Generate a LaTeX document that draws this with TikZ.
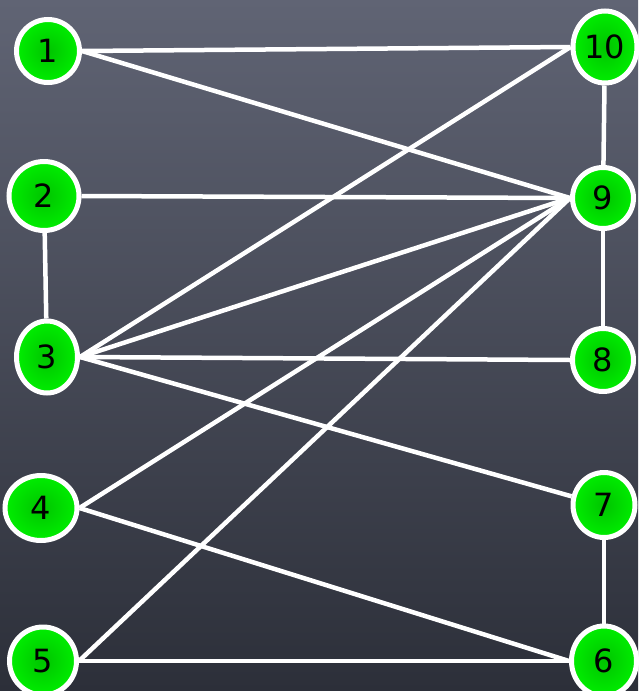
\documentclass[tikz,border=0pt]{standalone}
\usepackage{fontspec}
\setmainfont{DejaVu Sans}
\usepackage{xcolor}
\usepackage{tikz}
\usetikzlibrary{shapes.geometric,backgrounds}
\definecolor{SlateTop}{RGB}{96,100,116}
\definecolor{SlateBot}{RGB}{44,47,57}
\definecolor{VtxGreen}{RGB}{0,238,0}
\definecolor{VtxCore}{RGB}{0,196,0}

\begin{document}
\begin{tikzpicture}[x=1pt, y=-1pt,
  vtx/.style={ellipse, draw=white, line width=5pt, inner sep=0pt,
    minimum width=63pt, minimum height=63pt,
    inner color=VtxCore, outer color=VtxGreen,
    font=\fontsize{32}{34}\selectfont, text=black},
  link/.style={draw=white, line width=4.5pt}]

\useasboundingbox (0,0) rectangle (638,691);

\node[vtx] (v1) at (48,51) {1};
\node[vtx, minimum width=64pt, minimum height=72pt] (v10) at (605,47) {10};
\node[vtx, minimum width=70pt, minimum height=69pt] (v2) at (44,196) {2};
\node[vtx, minimum width=61pt, minimum height=61pt] (v9) at (603,198) {9};
\node[vtx, minimum width=61pt, minimum height=72pt] (v3) at (47,357) {3};
\node[vtx, minimum width=61pt, minimum height=63pt] (v8) at (603,360) {8};
\node[vtx, minimum width=72pt, minimum height=65pt] (v4) at (41,508) {4};
\node[vtx, minimum width=62pt, minimum height=65pt] (v7) at (604,505) {7};
\node[vtx, minimum width=67pt, minimum height=68pt] (v5) at (43,661) {5};
\node[vtx, minimum width=65pt, minimum height=70pt] (v6) at (604,661) {6};

\begin{scope}[on background layer]
\shade[top color=SlateTop, bottom color=SlateBot] (0,0) rectangle (638,691);
\draw[link] (v1.east) -- (v10.west);
\draw[link] (v1.east) -- (v9.west);
\draw[link] (v2.east) -- (v9.west);
\draw[link] (v2) -- (v3);
\draw[link] (v3.east) -- (v10.west);
\draw[link] (v3.east) -- (v9.west);
\draw[link] (v3.east) -- (v8.west);
\draw[link] (v3.east) -- (v7.165);
\draw[link] (v4.east) -- (v9.west);
\draw[link] (v4.east) -- (v6.west);
\draw[link] (v5.east) -- (v9.west);
\draw[link] (v5.east) -- (v6.west);
\draw[link] (v10) -- (v9);
\draw[link] (v9) -- (v8);
\draw[link] (v7) -- (v6);
\end{scope}
\end{tikzpicture}
\end{document}
